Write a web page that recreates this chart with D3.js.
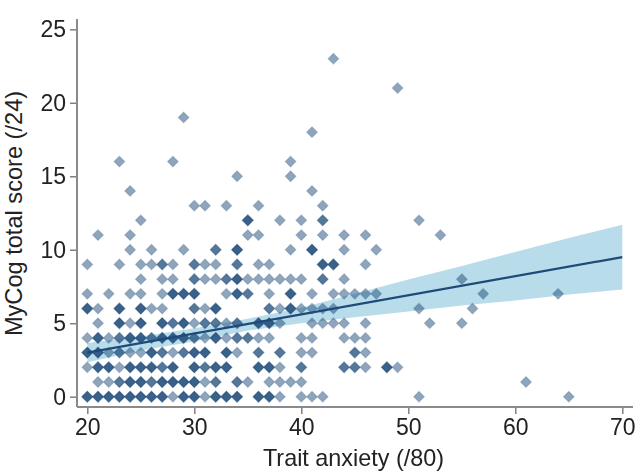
<!DOCTYPE html>
<html><head><meta charset="utf-8">
<script src="https://cdnjs.cloudflare.com/ajax/libs/d3/7.8.5/d3.min.js"></script>
<style>html,body{margin:0;padding:0;background:#fff}svg{display:block}
text{font-family:"Liberation Sans",Arial,sans-serif;fill:#222}</style></head><body>
<svg id="c" width="638" height="473"></svg>
<script>
// Each row: [trait anxiety, number of overlapping participants], indexed by MyCog score
const row0=[[20,3],[21,3],[22,3],[23,3],[24,3],[25,3],[26,3],[27,3],[28,1],[29,3],[30,3],[31,1],[32,3],[33,3],[34,3],[36,3],[37,3],[38,1],[40,1],[41,1],[42,1],[51,1],[65,1]];
const row1=[[21,1],[22,1],[23,2],[24,3],[25,3],[26,2],[27,3],[28,3],[29,3],[30,3],[31,1],[32,2],[34,2],[35,1],[37,1],[38,1],[39,1],[40,1],[61,1]];
const row2=[[20,1],[21,3],[22,3],[23,1],[24,3],[25,3],[26,3],[27,2],[28,3],[30,3],[31,2],[32,3],[33,3],[36,3],[37,3],[38,1],[40,2],[44,2],[45,2],[46,1],[48,3],[49,1]];
const row3=[[20,3],[21,3],[22,1],[23,2],[24,1],[25,1],[26,3],[27,2],[28,1],[29,2],[30,3],[31,3],[33,3],[34,1],[36,2],[38,2],[40,1],[41,1],[45,2],[46,1]];
const row4=[[20,1],[21,3],[22,1],[23,2],[24,3],[25,3],[26,2],[27,3],[28,3],[29,3],[30,2],[31,1],[32,3],[33,1],[34,2],[35,2],[36,1],[37,1],[40,1],[41,1],[44,1],[45,1],[46,1]];
const row5=[[21,1],[23,3],[24,1],[25,3],[27,3],[28,2],[29,3],[30,1],[31,2],[32,2],[33,1],[34,2],[36,3],[37,3],[38,1],[41,1],[42,1],[43,1],[44,1],[46,1],[52,1],[55,1]];
const row6=[[20,3],[21,1],[23,3],[25,3],[26,1],[27,1],[30,2],[31,1],[32,3],[37,2],[38,1],[39,3],[40,1],[41,1],[42,1],[43,1],[51,1],[56,1]];
const row7=[[20,1],[22,1],[24,1],[25,1],[27,1],[28,3],[29,3],[30,3],[33,1],[34,3],[35,2],[37,1],[39,3],[41,1],[43,1],[44,1],[45,1],[46,1],[47,1],[57,1],[64,1]];
const row8=[[25,1],[27,1],[28,1],[30,2],[31,1],[32,1],[33,2],[34,3],[35,1],[36,1],[37,1],[38,1],[39,1],[40,1],[42,2],[44,1],[55,1]];
const row9=[[20,1],[23,1],[25,1],[26,1],[27,2],[28,1],[30,2],[31,1],[32,1],[34,2],[36,1],[37,1],[42,3],[43,3],[46,1]];
const row10=[[24,1],[26,1],[29,1],[32,2],[34,3],[39,1],[41,3],[44,1],[47,1]];
const row11=[[21,1],[24,1],[35,1],[36,1],[40,1],[42,1],[44,1],[46,1],[53,1]];
const row12=[[25,1],[35,3],[38,1],[40,1],[42,2],[51,1]];
const row13=[[30,1],[31,1],[33,1],[36,1],[42,1]];
const row14=[[24,1],[41,1]];
const row15=[[34,1],[39,1]];
const row16=[[23,1],[28,1],[39,1]];
const row18=[[41,1]];
const row19=[[29,1]];
const row21=[[49,1]];
const row23=[[43,1]];
const scoreRows=[[0,row0],[1,row1],[2,row2],[3,row3],[4,row4],[5,row5],[6,row6],[7,row7],[8,row8],[9,row9],[10,row10],[11,row11],[12,row12],[13,row13],[14,row14],[15,row15],[16,row16],[18,row18],[19,row19],[21,row21],[23,row23]];

const fitX=[20,70];
const fitY=[3.0,9.5];
const ciX=[20,25,30,35,40,45,50,55,60,65,70];
const ciUpper=[3.65,4.1,4.65,5.3,6.05,7.0,7.98,8.9,9.85,10.8,11.7];
const ciLower=[2.35,3.15,3.75,4.5,5.0,5.4,5.8,6.2,6.55,6.95,7.3];
const xTicks=[20,30,40,50,60,70];
const yTicks=[0,5,10,15,20,25];

const svg=d3.select("#c");
const x=d3.scaleLinear().domain([20,70]).range([87.3,622.3]);
const y=d3.scaleLinear().domain([0,25]).range([396.7,29.3]);
const axisX=77, axisY=407;

svg.append("path").attr("fill","#b8dcea")
  .attr("d",d3.area().x(d=>x(d)).y0((d,i)=>y(ciLower[i])).y1((d,i)=>y(ciUpper[i]))(ciX));

const sym=d3.symbol().type(d3.symbolDiamond2).size(74);
const pts=scoreRows.flatMap(([s,r])=>r.flatMap(([a,n])=>d3.range(n).map(()=>({a,s}))));
svg.append("g").style("filter","blur(0.4px)").selectAll("path").data(pts).join("path")
  .attr("d",sym)
  .attr("transform",d=>`translate(${x(d.a)},${y(d.s)})`)
  .attr("fill","#1d4c7a").attr("fill-opacity",.5)
  .attr("stroke","#1d4c7a").attr("stroke-opacity",.2).attr("stroke-width",1.2);

svg.append("path").attr("fill","none").attr("stroke","#1f4a78").attr("stroke-width",2.2)
  .attr("d",d3.line().x(d=>x(d)).y((d,i)=>y(fitY[i]))(fitX));

const gx=svg.append("g").attr("transform",`translate(0,${axisY})`)
  .call(d3.axisBottom(x).tickValues(xTicks).tickSize(7).tickPadding(5));
const gy=svg.append("g").attr("transform",`translate(${axisX},0)`)
  .call(d3.axisLeft(y).tickValues(yTicks).tickSize(7).tickPadding(4));
[gx,gy].forEach(g=>{
  g.select(".domain").remove();
  g.selectAll("line").attr("stroke","#808080").attr("stroke-width",1.5);
  g.selectAll("text").style("font-size","23px").attr("fill","#222");
});
svg.append("line").attr("x1",axisX).attr("x2",633).attr("y1",axisY).attr("y2",axisY).attr("stroke","#8a8a8a").attr("stroke-width",2);
svg.append("line").attr("x1",axisX).attr("x2",axisX).attr("y1",19).attr("y2",axisY).attr("stroke","#8a8a8a").attr("stroke-width",2);

svg.append("text").attr("x",353.5).attr("y",466).attr("text-anchor","middle").style("font-size","23.4px").text("Trait anxiety (/80)");
svg.append("text").attr("transform","translate(22,213.5) rotate(-90)").attr("text-anchor","middle").style("font-size","23.6px").text("MyCog total score (/24)");
</script></body></html>
